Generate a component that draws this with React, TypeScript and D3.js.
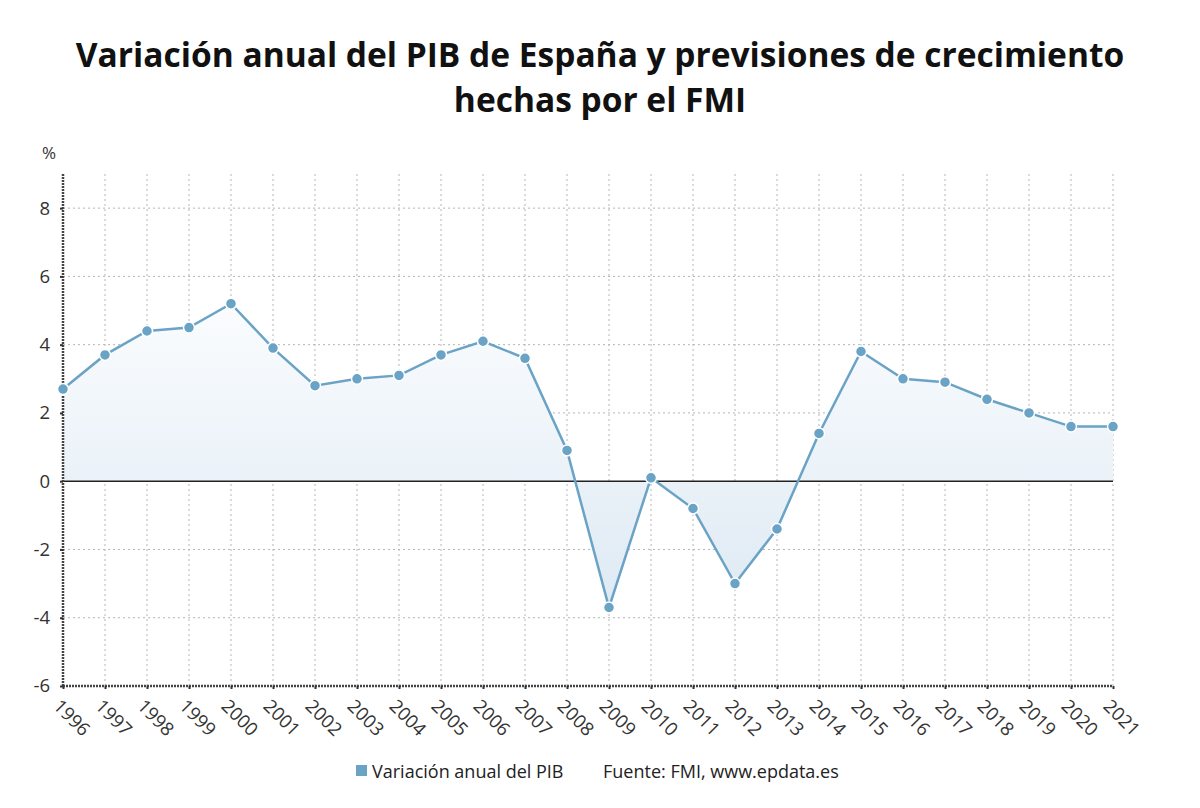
import { useEffect, useRef } from 'react';
import * as d3 from 'd3';

const years = [1996, 1997, 1998, 1999, 2000, 2001, 2002, 2003, 2004, 2005, 2006, 2007, 2008,
  2009, 2010, 2011, 2012, 2013, 2014, 2015, 2016, 2017, 2018, 2019, 2020, 2021];
const gdp = [2.7, 3.7, 4.4, 4.5, 5.2, 3.9, 2.8, 3.0, 3.1, 3.7, 4.1, 3.6, 0.9,
  -3.7, 0.1, -0.8, -3.0, -1.4, 1.4, 3.8, 3.0, 2.9, 2.4, 2.0, 1.6, 1.6];
const yTicks = [-6, -4, -2, 0, 2, 4, 6, 8];

const FONT = '"Open Sans", "Noto Sans", sans-serif';
const LINE = '#6aa3c6';

export default function App() {
  const svgRef = useRef<SVGSVGElement>(null);

  useEffect(() => {
    if (!svgRef.current) return;
    const svg = d3.select(svgRef.current);
    svg.selectAll('*').remove();

    const width = 1200, height = 808;
    const left = 63, right = 1113, top = 174, bottom = 686;

    svg.append('rect').attr('width', width).attr('height', height).attr('fill', '#fff');

    // Title
    const title = svg.append('text')
      .attr('text-anchor', 'middle')
      .attr('font-family', FONT)
      .attr('font-weight', 700)
      .attr('font-size', 33.5)
      .attr('fill', '#111');
    title.append('tspan').attr('x', 600).attr('y', 67).text('Variación anual del PIB de España y previsiones de crecimiento');
    title.append('tspan').attr('x', 600).attr('y', 112).text('hechas por el FMI');

    const x = d3.scaleLinear().domain([1996, 2021]).range([left, right]);
    const y = d3.scaleLinear().domain([-6, 9]).range([bottom, top]);

    const data = years.map((yr, i) => ({ yr, v: gdp[i] }));

    // gradient
    const defs = svg.append('defs');
    const grad = defs.append('linearGradient')
      .attr('id', 'areaGrad')
      .attr('gradientUnits', 'userSpaceOnUse')
      .attr('x1', 0).attr('x2', 0)
      .attr('y1', y(6)).attr('y2', y(-4));
    grad.append('stop').attr('offset', '0%').attr('stop-color', '#fdfeff');
    grad.append('stop').attr('offset', '100%').attr('stop-color', '#dde9f3');

    // Grid
    const grid = svg.append('g').attr('stroke', '#b5b5b5').attr('stroke-dasharray', '2,3').attr('stroke-width', 1);
    yTicks.filter((t) => t !== 0 && t !== -6).forEach((t) => {
      grid.append('line').attr('x1', left).attr('x2', right).attr('y1', y(t)).attr('y2', y(t));
    });
    years.slice(1).forEach((yr) => {
      grid.append('line').attr('x1', x(yr)).attr('x2', x(yr)).attr('y1', top).attr('y2', bottom);
    });

    // Area
    const area = d3.area<typeof data[0]>()
      .x((d) => x(d.yr))
      .y0(y(0))
      .y1((d) => y(d.v));
    svg.append('path').datum(data).attr('d', area).attr('fill', 'url(#areaGrad)');

    // zero line
    svg.append('line')
      .attr('x1', left).attr('x2', right)
      .attr('y1', y(0)).attr('y2', y(0))
      .attr('stroke', '#222').attr('stroke-width', 1.6);

    // Axes
    const yAxis = svg.append('g')
      .attr('transform', `translate(${left},0)`)
      .call(d3.axisLeft(y).tickValues(yTicks).tickSize(3).tickPadding(10).tickFormat((d) => `${d}`));
    yAxis.select('.domain').attr('stroke', '#444').attr('stroke-width', 2.5).attr('stroke-dasharray', '2,1')
      .attr('d', `M0,${top}V${bottom}`);
    yAxis.selectAll('line').attr('stroke', '#333').attr('stroke-width', 2);
    yAxis.selectAll('text').attr('font-family', FONT).attr('font-size', 18.5).attr('fill', '#333');

    const xAxis = svg.append('g')
      .attr('transform', `translate(0,${bottom})`)
      .call(d3.axisBottom(x).tickValues(years).tickSize(3).tickFormat((d) => `${d}`));
    xAxis.select('.domain').attr('stroke', '#444').attr('stroke-width', 2.5).attr('stroke-dasharray', '2,1')
      .attr('d', `M${left},0H${right}`);
    xAxis.selectAll('line').attr('stroke', '#333').attr('stroke-width', 2);
    xAxis.selectAll('text')
      .attr('font-family', FONT).attr('font-size', 18.5).attr('fill', '#333')
      .attr('y', 0).attr('dy', 0)
      .attr('transform', 'translate(0,10) rotate(45)')
      .style('text-anchor', 'start')
      .attr('dominant-baseline', 'hanging');

    svg.append('text').attr('x', 49).attr('y', 159).attr('text-anchor', 'middle')
      .attr('font-family', FONT).attr('font-size', 17).attr('fill', '#333').text('%');

    // Line
    const line = d3.line<typeof data[0]>().x((d) => x(d.yr)).y((d) => y(d.v));
    svg.append('path').datum(data).attr('d', line)
      .attr('fill', 'none').attr('stroke', LINE).attr('stroke-width', 2.5);

    svg.append('g').selectAll('circle').data(data).enter().append('circle')
      .attr('cx', (d) => x(d.yr)).attr('cy', (d) => y(d.v)).attr('r', 5.5)
      .attr('fill', LINE).attr('stroke', '#fff').attr('stroke-width', 1.5);

    // Legend
    svg.append('rect').attr('x', 356).attr('y', 765).attr('width', 11).attr('height', 11).attr('fill', LINE);
    svg.append('text').attr('x', 372).attr('y', 778)
      .attr('font-family', FONT).attr('font-size', 18).attr('fill', '#222').text('Variación anual del PIB');
    svg.append('text').attr('x', 603).attr('y', 778)
      .attr('font-family', FONT).attr('font-size', 18).attr('fill', '#222').text('Fuente: FMI, www.epdata.es');
  }, []);

  return <svg ref={svgRef} width={1200} height={808} style={{ display: 'block', position: 'absolute', left: 0, top: 0 }} />;
}
